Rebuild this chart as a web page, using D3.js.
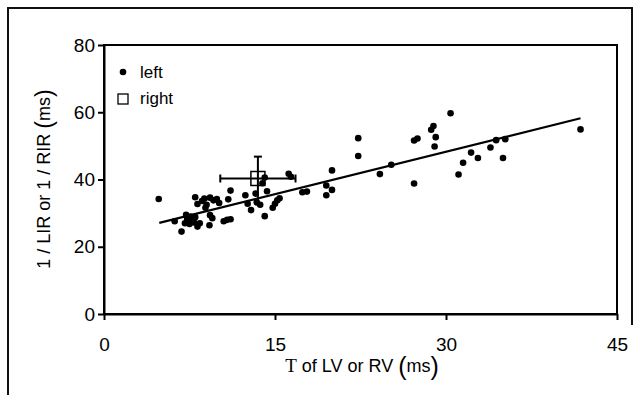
<!DOCTYPE html>
<html>
<head>
<meta charset="utf-8">
<script src="https://cdn.jsdelivr.net/npm/d3@7"></script>
<style>
  body { margin: 0; background: #fff; }
  text { font-family: "Liberation Sans", Arial, sans-serif; }
</style>
</head>
<body>
<div id="chart"></div>
<script>
// left ventricle points: [tau, 1/LIR]
const leftX = [4.8, 6.2, 6.8, 7.1, 7.2, 7.3, 7.5, 7.6, 7.7, 7.8, 7.9, 8.0, 8.2, 8.4,
  8.0, 8.2, 8.6, 8.8, 9.0, 9.3, 9.6, 9.9, 10.1, 8.9,
  9.25, 9.3, 9.5, 10.5, 10.8, 11.1, 10.9, 11.1,
  12.4, 12.6, 12.9, 13.3, 13.4, 13.7, 13.9, 14.1, 14.1, 14.3, 14.8, 15.0, 15.2, 15.4, 16.2, 16.4,
  17.4, 17.8, 19.5, 19.5, 20.0, 20.0,
  22.3, 22.3, 24.2, 25.2, 27.2, 27.2, 27.5, 28.7, 28.9, 29.1, 29.0, 30.4,
  31.1, 31.5, 32.2, 32.8, 33.9, 34.4, 35.2, 35.0, 41.8];
const leftY = [34.2, 27.6, 24.5, 27.0, 29.5, 28.2, 26.8, 29.0, 27.6, 28.4, 27.2, 28.8, 26.0, 27.0,
  34.7, 32.7, 33.6, 34.3, 32.5, 34.6, 33.8, 34.2, 33.0, 31.6,
  26.4, 29.4, 28.5, 27.6, 28.0, 28.2, 34.1, 36.7,
  35.3, 32.8, 30.9, 35.8, 33.2, 32.5, 38.9, 40.6, 29.1, 36.5, 31.6, 32.8, 33.8, 34.4, 41.7, 40.8,
  36.2, 36.4, 38.2, 35.3, 36.9, 42.7,
  52.3, 47.0, 41.6, 44.4, 38.8, 51.6, 52.2, 54.8, 55.9, 52.6, 49.8, 59.7,
  41.5, 45.0, 48.0, 46.4, 49.5, 51.7, 52.0, 46.4, 54.9];

// right ventricle: mean with error bars
const rightMean = [13.5, 40.3];
const rightErrX = 3.3;
const rightErrY = 6.5;

// regression line ends
const fitX = [4.85, 41.8];
const fitY = [27.1, 58.2];

const xTicks = [0, 15, 30, 45];
const yTicks = [0, 20, 40, 60, 80];

const W = 639, H = 395;
const svg = d3.select("#chart").append("svg")
  .attr("width", W).attr("height", H);

// outer frame
svg.append("path")
  .attr("d", "M8,395 L8,8 L632,8 L632,325")
  .attr("fill", "none").attr("stroke", "#111").attr("stroke-width", 2);

const x = d3.scaleLinear().domain([0, 45]).range([104, 617]);
const y = d3.scaleLinear().domain([0, 80]).range([314, 45]);

// plot box
svg.append("rect")
  .attr("x", x(0)).attr("y", y(80))
  .attr("width", x(45) - x(0)).attr("height", y(0) - y(80))
  .attr("fill", "none").attr("stroke", "#000").attr("stroke-width", 2);

const xAxis = svg.append("g")
  .attr("transform", `translate(0,${y(0)})`)
  .call(d3.axisBottom(x).tickValues(xTicks).tickSize(6).tickPadding(18).tickSizeOuter(0));
const yAxis = svg.append("g")
  .attr("transform", `translate(${x(0)},0)`)
  .call(d3.axisLeft(y).tickValues(yTicks).tickSize(6).tickPadding(3).tickSizeOuter(0));

[xAxis, yAxis].forEach(a => {
  a.select(".domain").attr("stroke", "#000").attr("stroke-width", 2);
  a.selectAll(".tick line").attr("stroke", "#000").attr("stroke-width", 2);
  a.selectAll(".tick text").attr("fill", "#000")
    .style("font-family", "'Liberation Sans', Arial, sans-serif").style("font-size", "19px");
});

// regression line
svg.append("line")
  .attr("x1", x(fitX[0])).attr("y1", y(fitY[0]))
  .attr("x2", x(fitX[1])).attr("y2", y(fitY[1]))
  .attr("stroke", "#000").attr("stroke-width", 2.2);

// left points
svg.append("g")
  .selectAll("circle")
  .data(leftX.map((d, i) => [d, leftY[i]]))
  .enter()
  .append("circle")
    .attr("cx", d => x(d[0]))
    .attr("cy", d => y(d[1]))
    .attr("r", 3.3)
    .attr("fill", "#000");

// right mean with error bars
const eb = svg.append("g").attr("stroke", "#000").attr("stroke-width", 2).attr("fill", "none");
const cx = x(rightMean[0]), cy = y(rightMean[1]);
const xl = x(rightMean[0] - rightErrX), xr = x(rightMean[0] + rightErrX);
const yt = y(rightMean[1] + rightErrY), yb = y(rightMean[1] - rightErrY);
eb.append("line").attr("x1", xl).attr("x2", xr).attr("y1", cy).attr("y2", cy);
eb.append("line").attr("x1", xl).attr("x2", xl).attr("y1", cy - 4).attr("y2", cy + 4);
eb.append("line").attr("x1", xr).attr("x2", xr).attr("y1", cy - 4).attr("y2", cy + 4);
eb.append("line").attr("x1", cx).attr("x2", cx).attr("y1", yt).attr("y2", yb);
eb.append("line").attr("x1", cx - 4).attr("x2", cx + 4).attr("y1", yt).attr("y2", yt);
eb.append("rect").attr("x", cx - 7).attr("y", cy - 7).attr("width", 14).attr("height", 14)
  .attr("stroke-width", 1.5);

// legend
svg.append("circle").attr("cx", 123).attr("cy", 72).attr("r", 3.3).attr("fill", "#000");
svg.append("rect").attr("x", 118).attr("y", 94).attr("width", 10).attr("height", 10)
  .attr("fill", "none").attr("stroke", "#000").attr("stroke-width", 1.3);
svg.append("text").attr("x", 140).attr("y", 78).style("font-size", "17px").text("left");
svg.append("text").attr("x", 140).attr("y", 104).style("font-size", "17px").text("right");

// x label
const xl2 = svg.append("text")
  .attr("x", 362).attr("y", 372).attr("text-anchor", "middle")
  .style("font-size", "18px");
xl2.append("tspan").style("font-family", "'Liberation Serif', 'Times New Roman', serif")
  .style("font-size", "19px").text("Τ");
xl2.append("tspan").text(" of LV or RV ");
xl2.append("tspan").style("font-size", "25px").attr("dy", 3).text("(");
xl2.append("tspan").attr("dy", -3).text("ms");
xl2.append("tspan").style("font-size", "25px").attr("dy", 3).text(")");

// y label
const yl = svg.append("text")
  .attr("transform", "translate(50,179) rotate(-90)")
  .attr("text-anchor", "middle")
  .style("font-size", "18px");
yl.append("tspan").text("1 / LIR or 1 / RIR  ");
yl.append("tspan").style("font-size", "23px").attr("dy", 2).text("(");
yl.append("tspan").attr("dy", -2).text("ms");
yl.append("tspan").style("font-size", "23px").attr("dy", 2).text(")");
</script>
</body>
</html>
